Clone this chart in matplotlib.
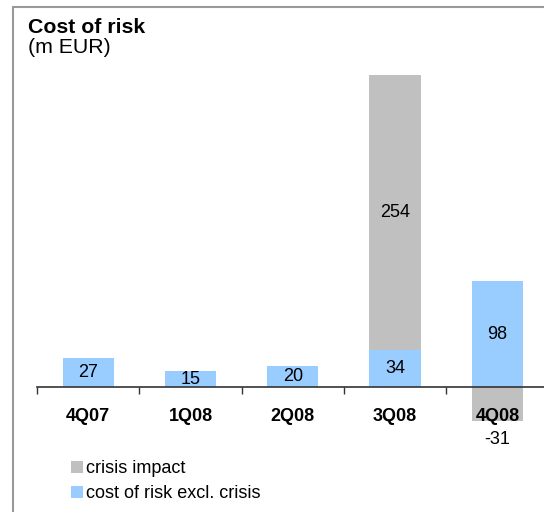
import matplotlib
matplotlib.use('Agg')
import matplotlib.pyplot as plt
from matplotlib.patches import Rectangle

plt.rcParams['font.family'] = ['Liberation Sans', 'DejaVu Sans']

# data
quarters = ['4Q07', '1Q08', '2Q08', '3Q08', '4Q08']
costExclCrisis = [27, 15, 20, 34, 98]
crisisImpact = [0, 0, 0, 254, -31]

blue = '#99CCFF'
grey = '#C0C0C0'

fig = plt.figure(figsize=(5.44, 5.12), dpi=100)
ax = fig.add_axes([37 / 544, (512 - 421) / 512, 511.5 / 544, 346 / 512])

x = range(len(quarters))
barsBlue = ax.bar(x, costExclCrisis, width=0.5, color=blue, zorder=1)
# crisis impact goes on top of positive values, below zero if negative
bottoms = [c if v > 0 else 0 for c, v in zip(costExclCrisis, crisisImpact)]
barsGrey = ax.bar(x, crisisImpact, width=0.5, bottom=bottoms, color=grey, zorder=1)

ax.set_xlim(-0.5, len(quarters) - 0.5)
ax.set_ylim(min(crisisImpact), max(c + v for c, v in zip(costExclCrisis, crisisImpact)))

for s in ['top', 'right', 'left']:
    ax.spines[s].set_visible(False)
ax.spines['bottom'].set_position(('data', 0))
ax.spines['bottom'].set_color('#333333')
ax.spines['bottom'].set_linewidth(1.2)
ax.set_yticks([])

ax.set_xticks(list(x))
ax.set_xticklabels(quarters, fontsize=13, fontweight='bold')
ax.set_xticks([i - 0.5 for i in range(len(quarters) + 1)], minor=True)
ax.tick_params(axis='x', which='major', length=0, pad=14.5)
ax.tick_params(axis='x', which='minor', length=5, width=1, color='#333333', direction='out')

# value labels
for i, (c, v) in enumerate(zip(costExclCrisis, crisisImpact)):
    ax.text(i, c / 2, str(c), ha='center', va='center', fontsize=13)
    if v > 0:
        ax.text(i, c + v / 2, str(v), ha='center', va='center', fontsize=13)
    elif v < 0:
        ax.annotate(str(v), (i, v), xytext=(0, -13), textcoords='offset points',
                    ha='center', va='center', fontsize=13, annotation_clip=False)

fig.text(28 / 544, 1 - 33 / 512, 'Cost of risk', fontsize=15.3, fontweight='bold', va='baseline')
fig.text(28 / 544, 1 - 53 / 512, '(m EUR)', fontsize=15.3, va='baseline')

fig.legend([barsGrey, barsBlue], ['crisis impact', 'cost of risk excl. crisis'],
           loc='upper left', bbox_to_anchor=(71 / 544, 1 - 460 / 512), frameon=False,
           fontsize=13, handlelength=0.65, handleheight=0.65, handletextpad=0.2,
           labelspacing=0.45, borderpad=0, borderaxespad=0)

# frame round the slide area
fig.patches.append(Rectangle((13 / 544, -0.1), 1.2, 1 - 7 / 512 + 0.1, transform=fig.transFigure,
                             fill=False, edgecolor='#999999', linewidth=1.5))

plt.savefig('out.png', dpi=100)
